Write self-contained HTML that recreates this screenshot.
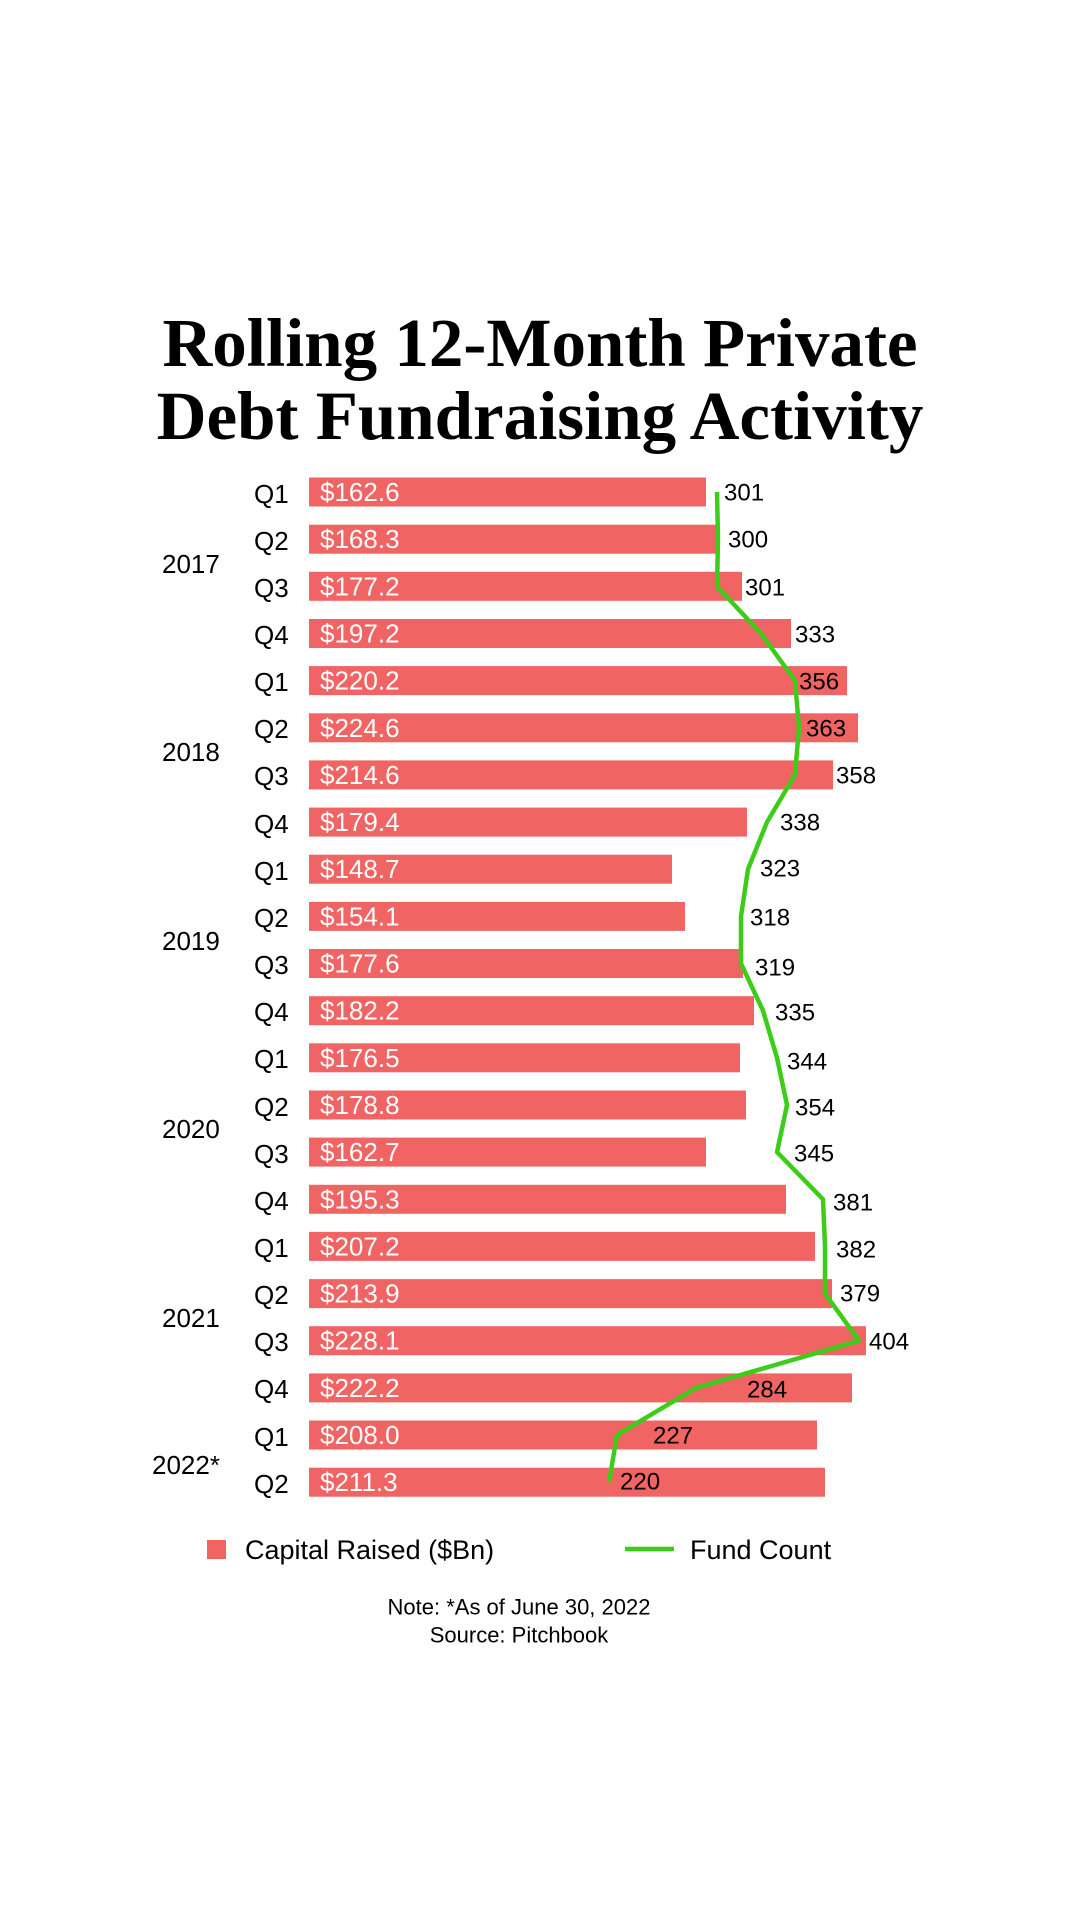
<!DOCTYPE html>
<html><head><meta charset="utf-8"><style>
html,body{margin:0;padding:0;background:#fff;}
body{width:1080px;height:1920px;overflow:hidden;}
svg text{font-family:"Liberation Sans",sans-serif;}
</style></head><body>
<svg width="1080" height="1920" viewBox="0 0 1080 1920" xmlns="http://www.w3.org/2000/svg">
<text x="540" y="366" text-anchor="middle" style="font-family:'Liberation Serif',serif" font-weight="bold" font-size="69" fill="#000">Rolling 12-Month Private</text>
<text x="540" y="439" text-anchor="middle" style="font-family:'Liberation Serif',serif" font-weight="bold" font-size="69" fill="#000">Debt Fundraising Activity</text>
<g fill="#f06464">
<rect x="309" y="477.5" width="397" height="29"/>
<rect x="309" y="524.7" width="411" height="29"/>
<rect x="309" y="571.8" width="433" height="29"/>
<rect x="309" y="619" width="482" height="29"/>
<rect x="309" y="666.1" width="538" height="29"/>
<rect x="309" y="713.3" width="549" height="29"/>
<rect x="309" y="760.4" width="524" height="29"/>
<rect x="309" y="807.6" width="438" height="29"/>
<rect x="309" y="854.7" width="363" height="29"/>
<rect x="309" y="901.9" width="376" height="29"/>
<rect x="309" y="949" width="434" height="29"/>
<rect x="309" y="996.2" width="445" height="29"/>
<rect x="309" y="1043.3" width="431" height="29"/>
<rect x="309" y="1090.5" width="437" height="29"/>
<rect x="309" y="1137.6" width="397" height="29"/>
<rect x="309" y="1184.8" width="477" height="29"/>
<rect x="309" y="1231.9" width="506" height="29"/>
<rect x="309" y="1279.1" width="523" height="29"/>
<rect x="309" y="1326.2" width="557" height="29"/>
<rect x="309" y="1373.4" width="543" height="29"/>
<rect x="309" y="1420.5" width="508" height="29"/>
<rect x="309" y="1467.7" width="516" height="29"/>
</g>
<g fill="#fff" font-size="26" dominant-baseline="central">
<text x="320" y="492">$162.6</text><text x="320" y="539.2">$168.3</text><text x="320" y="586.3">$177.2</text><text x="320" y="633.5">$197.2</text>
<text x="320" y="680.6">$220.2</text><text x="320" y="727.8">$224.6</text><text x="320" y="774.9">$214.6</text><text x="320" y="822.1">$179.4</text>
<text x="320" y="869.2">$148.7</text><text x="320" y="916.4">$154.1</text><text x="320" y="963.5">$177.6</text><text x="320" y="1010.7">$182.2</text>
<text x="320" y="1057.8">$176.5</text><text x="320" y="1105">$178.8</text><text x="320" y="1152.1">$162.7</text><text x="320" y="1199.3">$195.3</text>
<text x="320" y="1246.4">$207.2</text><text x="320" y="1293.6">$213.9</text><text x="320" y="1340.7">$228.1</text><text x="320" y="1387.9">$222.2</text>
<text x="320" y="1435">$208.0</text><text x="320" y="1482.2">$211.3</text>
</g>
<g fill="#000" font-size="26" dominant-baseline="central">
<text x="254" y="494">Q1</text><text x="254" y="541">Q2</text><text x="254" y="588">Q3</text><text x="254" y="635">Q4</text>
<text x="254" y="682">Q1</text><text x="254" y="729">Q2</text><text x="254" y="776">Q3</text><text x="254" y="824">Q4</text>
<text x="254" y="871">Q1</text><text x="254" y="918">Q2</text><text x="254" y="965">Q3</text><text x="254" y="1012">Q4</text>
<text x="254" y="1059">Q1</text><text x="254" y="1107">Q2</text><text x="254" y="1154">Q3</text><text x="254" y="1201">Q4</text>
<text x="254" y="1248">Q1</text><text x="254" y="1295">Q2</text><text x="254" y="1342">Q3</text><text x="254" y="1389">Q4</text>
<text x="254" y="1437">Q1</text><text x="254" y="1484">Q2</text>
<text x="162" y="564">2017</text><text x="162" y="752">2018</text><text x="162" y="941">2019</text>
<text x="162" y="1129">2020</text><text x="162" y="1318">2021</text><text x="152" y="1465">2022*</text>
</g>
<polyline fill="none" stroke="#3dcc1a" stroke-width="4.5" stroke-linejoin="round" points="717,492 718,539.2 717,586.3 761,633.5 795,680.6 799,727.8 795,774.9 767,822.1 748,869.2 741,916.4 741,963.5 763,1010.7 777,1057.8 787,1105 777,1152.1 823,1199.3 825,1246.4 825,1293.6 859,1340.7 696,1387.9 617,1435 609,1482.2"/>
<g fill="#000" font-size="24" dominant-baseline="central">
<text x="724" y="493">301</text><text x="728" y="540">300</text><text x="745" y="588">301</text><text x="795" y="635">333</text>
<text x="799" y="682">356</text><text x="806" y="729">363</text><text x="836" y="776">358</text><text x="780" y="823">338</text>
<text x="760" y="869">323</text><text x="750" y="918">318</text><text x="755" y="968">319</text><text x="775" y="1013">335</text>
<text x="787" y="1062">344</text><text x="795" y="1108">354</text><text x="794" y="1154">345</text><text x="833" y="1203">381</text>
<text x="836" y="1250">382</text><text x="840" y="1294">379</text><text x="869" y="1342">404</text><text x="747" y="1390">284</text>
<text x="653" y="1436">227</text><text x="620" y="1482">220</text>
</g>
<rect x="207" y="1540" width="19" height="19" fill="#f06464"/>
<text x="245" y="1550" font-size="27" dominant-baseline="central" fill="#000">Capital Raised ($Bn)</text>
<line x1="625" y1="1549" x2="674" y2="1549" stroke="#3dcc1a" stroke-width="4.5"/>
<text x="690" y="1550" font-size="27" dominant-baseline="central" fill="#000">Fund Count</text>
<text x="519" y="1607" font-size="22" text-anchor="middle" dominant-baseline="central" fill="#000">Note: *As of June 30, 2022</text>
<text x="519" y="1635" font-size="22" text-anchor="middle" dominant-baseline="central" fill="#000">Source: Pitchbook</text>
</svg>
</body></html>
